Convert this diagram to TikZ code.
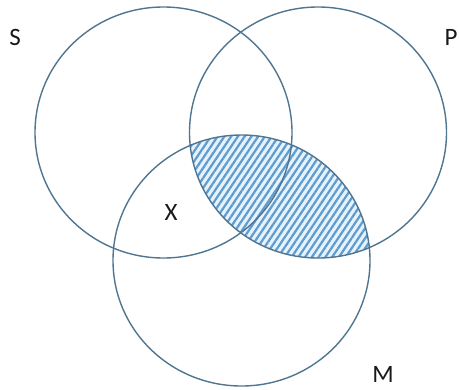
\documentclass[tikz,border=0pt]{standalone}
\usepackage{fontspec}
\setmainfont{Carlito}
\usetikzlibrary{patterns.meta}
\definecolor{ringblue}{HTML}{4F7591}
\definecolor{hatchblue}{HTML}{5E9BCF}
\definecolor{hatchbg}{HTML}{E6F3FC}
\tikzset{
  ring/.style={draw=ringblue,line width=1.4pt},
  setname/.style={text=black!90,inner sep=0pt,font=\fontsize{25}{27}\selectfont},
}
\begin{document}
\begin{tikzpicture}[x=1pt,y=-1pt]
\useasboundingbox (0,0) rectangle (460,389);
\coordinate (cs) at (163.5,132.5);
\coordinate (cp) at (318,132.5);
\coordinate (cm) at (241.5,260.5);

% shaded part: P and M
\begin{scope}
\clip (cp) ellipse [x radius=128.5,y radius=125.5];
\fill[hatchbg] (cm) ellipse [x radius=128.5,y radius=125.5];
\fill[pattern={Lines[angle=56,distance=5.6pt,line width=2.2pt]},pattern color=hatchblue]
  (cm) ellipse [x radius=128.5,y radius=125.5];
\end{scope}

\draw[ring] (cs) ellipse [x radius=128.5,y radius=125.5];
\draw[ring] (cp) ellipse [x radius=128.5,y radius=125.5];
\draw[ring] (cm) ellipse [x radius=128.5,y radius=125.5];

\node[setname] (labS) at (15,37) {S};
\node[setname] (labP) at (451,37) {P};
\node[setname] (labM) at (383,374) {M};
\node[setname] (labX) at (171,212) {X};
\end{tikzpicture}
\end{document}
